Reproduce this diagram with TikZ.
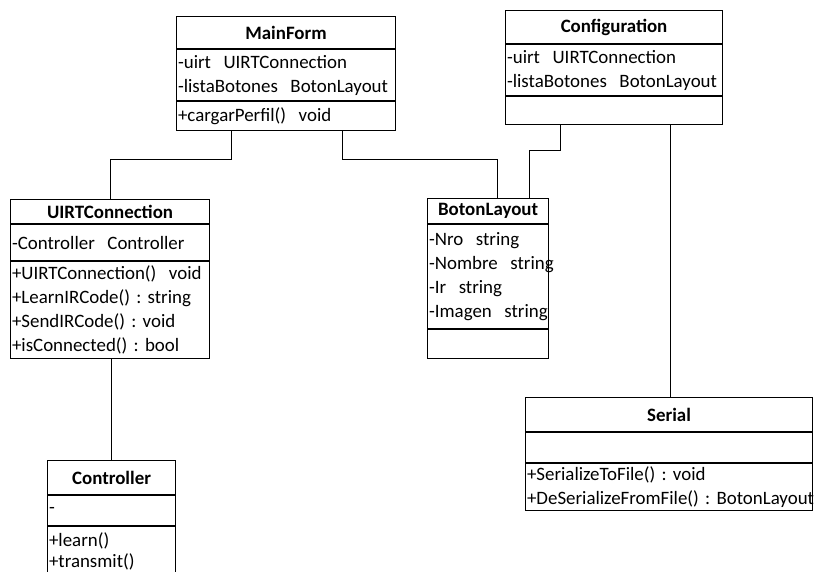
\documentclass[tikz,border=0pt]{standalone}
\usepackage{fontspec}
\setmainfont{Carlito}
\usetikzlibrary{calc}
\frenchspacing
\hyphenpenalty=10000
\exhyphenpenalty=10000

\begin{document}
\begin{tikzpicture}[x=1pt,y=-1pt,
  head/.style={draw, line width=1.1pt, anchor=north west, inner xsep=1.5pt, inner ysep=0pt,
    align=center, font=\fontsize{18.9}{24}\selectfont\bfseries},
  comp/.style={draw, line width=1.1pt, anchor=north west, inner xsep=1.5pt, inner ysep=0pt,
    align=left, font=\fontsize{18.9}{24}\selectfont},
  link/.style={draw, line width=0.8pt}]
\useasboundingbox (0,0) rectangle (814,571);

%MainForm
\node[head, text width=216pt, minimum height=32pt] (mainform) at (176,16) {MainForm};
\node[comp, text width=216pt, minimum height=51pt] (mainformAtt) at (mainform.south west) {-uirt~~UIRTConnection\\-listaBotones~~BotonLayout};
\node[comp, text width=216pt, minimum height=29pt] (mainformMet) at (mainformAtt.south west) {+cargarPerfil()~~void};

%Configuration
\node[head, text width=214pt, minimum height=33pt] (config) at (505,10) {Configuration};
\node[comp, text width=214pt, minimum height=51pt] (configAtt) at (config.south west) {-uirt~~UIRTConnection\\-listaBotones~~BotonLayout};
\node[comp, text width=214pt, minimum height=28pt] (configMet) at (configAtt.south west) {};

%UIRTConnection
\node[head, text width=196pt, minimum height=24pt] (uirt) at (10,199) {UIRTConnection};
\node[comp, text width=196pt, minimum height=36pt] (uirtAtt) at (uirt.south west) {-Controller~~Controller};
\node[comp, text width=196pt, minimum height=97pt] (uirtMet) at (uirtAtt.south west) {+UIRTConnection()~~void\\+LearnIRCode()~:~string\\+SendIRCode()~:~void\\+isConnected()~:~bool};

%BotonLayout
\node[head, text width=118pt, minimum height=25pt] (boton) at (427,198) {BotonLayout};
\node[comp, text width=118pt, minimum height=104pt] (botonAtt) at (boton.south west) {-Nro~~string\\-Nombre~~string\\-Ir~~string\\-Imagen~~string};
\node[comp, text width=118pt, minimum height=29pt] (botonMet) at (botonAtt.south west) {};

%Serial
\node[head, text width=284pt, minimum height=34pt] (serial) at (525,397) {Serial};
\node[comp, text width=284pt, minimum height=30pt] (serialAtt) at (serial.south west) {};
\node[comp, text width=284pt, minimum height=47pt] (serialMet) at (serialAtt.south west) {+SerializeToFile()~:~void\\+DeSerializeFromFile()~:~BotonLayout};

%Controller
\node[head, text width=125pt, minimum height=34pt] (controller) at (47,460) {Controller};
\node[comp, text width=125pt, minimum height=30pt] (controllerAtt) at (controller.south west) {-};
\node[comp, text width=125pt, minimum height=49pt, font=\fontsize{18.9}{21}\selectfont] (controllerMet) at (controllerAtt.south west) {+learn()\\+transmit()};

\path[link] (mainformMet.south west) ++(55,0) -- ++(0,28) -| (uirt.north);
\path[link] (mainformMet.south west) ++(166,0) -- ++(0,28) -| ($(boton.north west)+(70,0)$);
\path[link] (configMet.south west) ++(55,0) -- ++(0,25) -| ($(boton.north west)+(102,0)$);
\path[link] (configMet.south west) ++(165,0) coordinate (cfgDown) -- (cfgDown |- serial.north);
\path[link] (controller.north |- uirtMet.south) -- (controller.north);
\end{tikzpicture}
\end{document}
